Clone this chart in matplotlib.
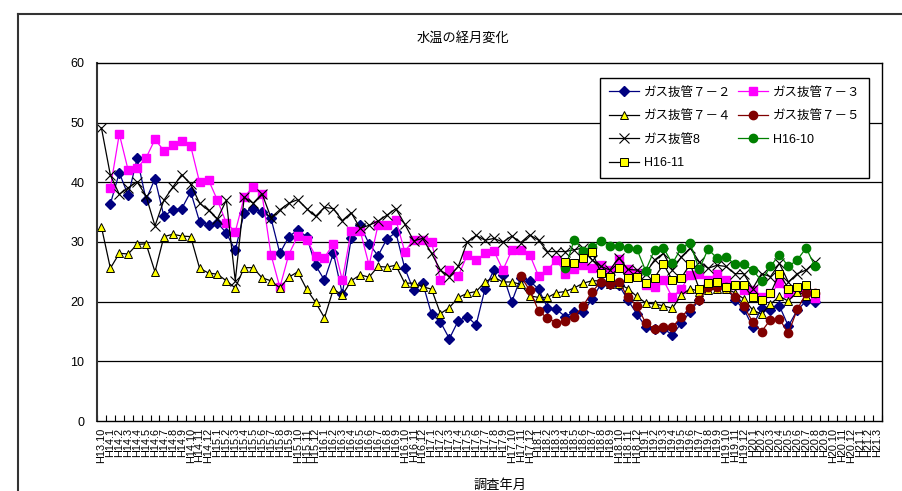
import numpy as np
import matplotlib
matplotlib.use('Agg')
import matplotlib.pyplot as plt
from matplotlib.lines import Line2D

plt.rcParams['font.family'] = ['Liberation Sans', 'Noto Sans CJK JP']

# survey months (category axis)
months = ['H13.10'] + ['H%d.%d' % (y, m) for y in range(14, 21) for m in range(1, 13)] + ['H21.1', 'H21.2', 'H21.3']

# water temperature per well, each list starts at the given month
gas72_start = 'H14.1'
gas72 = [36.4, 41.6, 37.8, 44.0, 37.1, 40.6, 34.3, 35.4, 35.6, 38.4,
         33.4, 32.9, 33.2, 31.5, 28.6, 34.9, 35.6, 35.1, 34.0, 28.1,
         30.9, 32.0, 30.9, 26.1, 23.6, 28.1, 21.3, 30.6, 32.8, 29.7,
         27.7, 30.5, 31.6, 25.6, 21.9, 23.2, 17.9, 16.6, 13.8, 16.8,
         17.5, 16.1, 22.2, 25.3, 24.5, 20.0, 24.0, 23.5, 22.1, 19.0,
         18.7, 17.5, 18.3, 18.3, 20.4, 23.0, 23.0, 22.8, 20.3, 18.0,
         15.8, 15.5, 15.5, 14.4, 16.4, 18.3, 20.3, 22.5, 22.8, 22.5,
         20.3, 18.8, 15.8, 19.0, 18.6, 19.3, 15.9, 18.6, 20.1, 20.0]

gas73_start = 'H14.1'
gas73 = [39.1, 48.1, 42.0, 42.4, 44.1, 47.2, 45.3, 46.2, 46.9, 46.1,
         40.0, 40.4, 37.0, 33.2, 31.7, 37.5, 39.3, 38.0, 27.9, 22.4,
         27.9, 31.0, 30.4, 27.7, 27.4, 29.7, 23.6, 31.9, 31.9, 26.1,
         32.8, 32.8, 33.7, 28.4, 30.4, 30.3, 30.0, 23.6, 25.3, 24.3,
         27.8, 26.9, 28.1, 28.5, 25.3, 28.6, 28.6, 27.9, 24.3, 25.3,
         27.0, 24.7, 25.5, 26.1, 25.6, 26.1, 25.3, 27.1, 25.4, 24.8,
         22.8, 22.5, 23.6, 20.7, 22.2, 24.5, 24.7, 23.6, 24.7, 23.7,
         22.8, 22.0, 22.0, 20.8, 21.4, 23.1, 21.4, 22.2, 21.7, 20.6]

gas74_start = 'H13.10'
gas74 = [32.5, 25.6, 28.1, 28.0, 29.6, 29.7, 25.0, 30.9, 31.3, 31.0, 30.9,
         25.6, 24.8, 24.6, 23.5, 22.3, 25.7, 25.7, 24.0, 23.5, 22.3,
         24.1, 25.0, 22.1, 19.9, 17.3, 22.1, 21.1, 23.5, 24.5, 24.1,
         25.9, 25.8, 26.1, 23.1, 23.1, 22.5, 22.1, 18.0, 19.0, 20.7,
         21.4, 21.7, 23.3, 24.1, 23.3, 23.3, 22.9, 21.0, 20.7, 20.7,
         21.5, 21.7, 22.3, 23.1, 23.5, 23.5, 23.0, 23.0, 22.2, 20.9,
         19.8, 19.6, 19.3, 18.9, 21.1, 22.2, 21.7, 21.9, 22.2, 22.2,
         21.5, 20.5, 18.6, 17.9, 19.6, 20.9, 20.1, 21.7, 21.0, 21.5]

gas75_start = 'H17.11'
gas75 = [24.3, 21.9, 18.5, 17.2, 16.5, 16.7, 17.5, 19.3, 21.7, 23.3,
         23.0, 23.3, 20.8, 19.3, 16.5, 15.4, 15.8, 15.7, 17.5, 18.9,
         20.3, 22.5, 22.5, 22.5, 20.7, 19.3, 16.6, 15.0, 17.0, 17.1,
         14.7, 18.7, 21.4, 21.4]

gas8_start = 'H13.10'
gas8 = [49.1, 41.2, 38.0, 39.1, 40.1, 37.7, 32.7, 37.0, 39.2, 41.3, 39.7,
        36.5, 35.3, 33.9, 37.0, 23.5, 37.5, 36.5, 38.1, 34.1, 35.4,
        36.5, 37.1, 35.6, 34.3, 35.8, 35.6, 33.6, 34.9, 32.3, 32.8,
        33.5, 34.5, 35.6, 33.0, 30.2, 30.6, 28.1, 25.3, 24.2, 25.9,
        30.0, 31.1, 30.3, 30.6, 30.0, 31.0, 29.9, 31.2, 30.3, 28.4,
        28.4, 28.4, 28.7, 29.0, 27.0, 25.9, 25.3, 27.4, 25.4, 25.3,
        24.7, 27.0, 28.1, 25.3, 27.5, 29.0, 26.7, 25.6, 26.1, 25.9,
        24.7, 24.7, 22.2, 24.7, 24.2, 26.4, 23.3, 24.7, 25.3, 26.7]

h1610_start = 'H18.4'
h1610 = [25.7, 30.4, 28.5, 29.2, 30.1, 29.4, 29.4, 29.0, 28.9, 25.2,
         28.7, 29.0, 26.4, 29.0, 29.8, 25.4, 28.8, 27.3, 27.5, 26.3,
         26.3, 25.3, 23.5, 25.9, 27.9, 25.9, 27.0, 29.0, 25.9]

h1611_start = 'H18.4'
h1611 = [26.7, 26.4, 27.3, 28.3, 24.8, 24.2, 25.7, 24.0, 24.1, 23.2,
         24.0, 26.3, 23.6, 24.0, 26.3, 22.2, 23.2, 23.3, 22.5, 22.8,
         22.8, 20.7, 20.3, 21.4, 24.7, 22.2, 22.5, 22.8, 21.4]

x = np.arange(len(months))


def xs(start, vals):
    i0 = months.index(start)
    return x[i0:i0 + len(vals)]


fig = plt.figure(figsize=(9.03, 4.91), dpi=100)
ax = fig.add_axes([97 / 903, 1 - 421 / 491, 785 / 903, 358 / 491])

# outer chart frame (cropped at right / bottom)
fig.add_artist(Line2D([18 / 903, 1.0], [1 - 14 / 491, 1 - 14 / 491], color='#333333', lw=1.5))
fig.add_artist(Line2D([18 / 903, 18 / 903], [0, 1 - 14 / 491], color='#333333', lw=1.5))

ms = 5.5
l72, = ax.plot(xs(gas72_start, gas72), gas72, color='#000080', lw=0.9, marker='D', ms=ms - 0.5,
               mfc='#000080', mec='#000080', label='ガス抜管７－２')
l73, = ax.plot(xs(gas73_start, gas73), gas73, color='#FF00FF', lw=0.9, marker='s', ms=ms,
               mfc='#FF00FF', mec='#FF00FF', label='ガス抜管７－３')
l74, = ax.plot(xs(gas74_start, gas74), gas74, color='black', lw=0.9, marker='^', ms=ms + 0.8,
               mfc='#FFFF00', mec='black', mew=0.7, label='ガス抜管７－４')
l75, = ax.plot(xs(gas75_start, gas75), gas75, color='#800000', lw=0.9, marker='o', ms=ms + 0.5,
               mfc='#800000', mec='#800000', label='ガス抜管７－５')
l8, = ax.plot(xs(gas8_start, gas8), gas8, color='black', lw=0.9, marker='x', ms=ms + 2,
              mec='black', mew=0.8, label='ガス抜管8')
l10, = ax.plot(xs(h1610_start, h1610), h1610, color='#008000', lw=0.9, marker='o', ms=ms + 0.5,
               mfc='#008000', mec='#008000', label='H16-10')
l11, = ax.plot(xs(h1611_start, h1611), h1611, color='black', lw=0.9, marker='s', ms=ms + 0.5,
               mfc='#FFFF00', mec='black', mew=0.7, label='H16-11')

ax.set_xlim(-0.5, len(months) - 0.5)
ax.set_ylim(0, 60)
ax.set_yticks(range(0, 61, 10))
for v in range(10, 60, 10):
    ax.axhline(v, color='black', lw=0.9, zorder=0)
for s in ax.spines.values():
    s.set_color('black')
    s.set_linewidth(1.0)
ax.spines['left'].set_color('#333333')
ax.spines['left'].set_linewidth(1.5)

ax.set_xticks(x)
ax.set_xticklabels(months, rotation=90, fontsize=7.8)
ax.set_xticks(np.arange(-0.5, len(months), 1), minor=True)
ax.tick_params(axis='x', which='major', length=0, pad=5)
ax.tick_params(axis='x', which='minor', direction='in', length=4, width=0.8)
ax.tick_params(axis='y', length=0, labelsize=9, pad=9)

fig.text(463 / 903, 1 - 38 / 491, '水温の経月変化', ha='center', va='center', fontsize=9.5)
fig.text(500 / 903, 1 - 479 / 491, '調査年月', ha='center', va='top', fontsize=9.5)

leg = ax.legend([l72, l74, l8, l11, l73, l75, l10],
                [l72.get_label(), l74.get_label(), l8.get_label(), l11.get_label(),
                 l73.get_label(), l75.get_label(), l10.get_label()],
                ncol=2, loc='upper left', bbox_to_anchor=(600 / 903, 1 - 78 / 491),
                bbox_transform=fig.transFigure, fontsize=9, frameon=True, fancybox=False,
                framealpha=1, edgecolor='black', handlelength=2.4, handletextpad=0.4,
                columnspacing=0.5, labelspacing=0.92, borderpad=0.7, borderaxespad=0)
leg.get_frame().set_linewidth(1.0)

fig.savefig('out.png', dpi=100)
